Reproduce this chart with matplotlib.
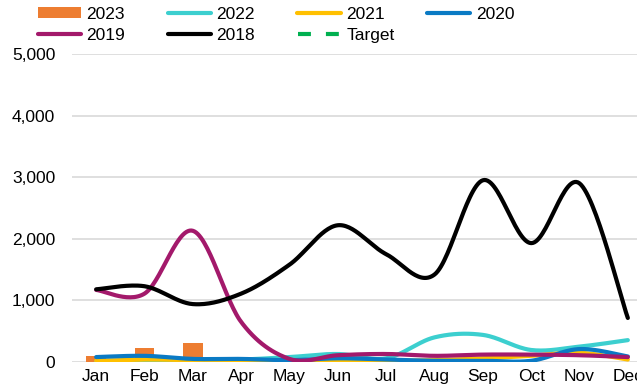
import matplotlib.pyplot as plt
from matplotlib.ticker import FuncFormatter
import numpy as np

plt.rcParams['font.family'] = ['Liberation Sans', 'DejaVu Sans']

months = ["Jan", "Feb", "Mar", "Apr", "May", "Jun", "Jul", "Aug", "Sep", "Oct", "Nov", "Dec"]

v2023 = [100, 230, 310]
v2022 = [10, 20, 30, 40, 80, 130, 60, 400, 440, 195, 250, 355]
v2021 = [20, 40, 30, 20, 10, 20, 20, 30, 60, 100, 150, 40]
v2020 = [80, 100, 50, 50, 30, 60, 40, 20, 20, 20, 210, 90]
v2019 = [1170, 1110, 2130, 650, 50, 110, 130, 100, 120, 120, 110, 80]
v2018 = [1180, 1230, 940, 1110, 1580, 2220, 1750, 1420, 2950, 1930, 2900, 715]
target = []

colors = {"2023": "#ED7D31", "2022": "#3CCFCF", "2021": "#FFC000",
          "2020": "#0A7AC4", "2019": "#A3196B", "2018": "#000000",
          "Target": "#00B050"}


def smooth(y, n=30):
    # catmull-rom style bezier, like a spreadsheet "smoothed line"
    y = np.asarray(y, dtype=float)
    x = np.arange(len(y), dtype=float)
    xs, ys = [], []
    for i in range(len(y) - 1):
        p0 = (x[max(i - 1, 0)], y[max(i - 1, 0)])
        p1 = (x[i], y[i])
        p2 = (x[i + 1], y[i + 1])
        p3 = (x[min(i + 2, len(y) - 1)], y[min(i + 2, len(y) - 1)])
        c1 = (p1[0] + (p2[0] - p0[0]) / 6, p1[1] + (p2[1] - p0[1]) / 6)
        c2 = (p2[0] - (p3[0] - p1[0]) / 6, p2[1] - (p3[1] - p1[1]) / 6)
        t = np.linspace(0, 1, n, endpoint=(i == len(y) - 2))
        for k in range(2):
            pts = [p1[k], c1[k], c2[k], p2[k]]
            b = ((1 - t) ** 3 * pts[0] + 3 * (1 - t) ** 2 * t * pts[1]
                 + 3 * (1 - t) * t ** 2 * pts[2] + t ** 3 * pts[3])
            (xs if k == 0 else ys).append(b)
    return np.concatenate(xs), np.concatenate(ys)


fig = plt.figure(figsize=(6.37, 3.89), dpi=100)
ax = fig.add_axes([72 / 637, 1 - 362 / 389, 580 / 637, 308 / 389])

x = np.arange(len(months))
h = {}
h["2023"] = ax.bar(x[:len(v2023)], v2023, width=0.4, color=colors["2023"], zorder=2)
for name, vals in [("2022", v2022), ("2021", v2021), ("2020", v2020),
                   ("2019", v2019), ("2018", v2018)]:
    sx, sy = smooth(vals)
    h[name], = ax.plot(sx, sy, color=colors[name], linewidth=3,
                       solid_capstyle='round', zorder=3)
h["Target"], = ax.plot(x[:len(target)], target, color=colors["Target"],
                       linewidth=3, linestyle=(0, (3.1, 3.6)), zorder=3)

ax.set_xlim(-0.5, 11.5)
ax.set_ylim(0, 5000)
ax.set_yticks(np.arange(0, 5001, 1000))
ax.yaxis.set_major_formatter(FuncFormatter(lambda v, p: f"{int(v):,}"))
ax.set_xticks(x, months)
ax.tick_params(axis='both', length=0, labelsize=12.5, colors='black')
ax.tick_params(axis='y', pad=12)
ax.tick_params(axis='x', pad=5)
for s in ax.spines.values():
    s.set_visible(False)
ax.grid(axis='y', color='#d9d9d9', linewidth=1.2, zorder=0)
ax.set_axisbelow(True)

# two legend rows so the columns line up evenly
rows = [["2023", "2022", "2021", "2020"], ["2019", "2018", "Target"]]
for r, keys in enumerate(rows):
    fig.legend([h[k] for k in keys], keys, loc='upper left',
               bbox_to_anchor=(38 / 637, 1 - (7 + 21 * r) / 389), ncol=4,
               frameon=False, fontsize=12.5, handlelength=2.5,
               handletextpad=0.3, columnspacing=2.45, borderpad=0,
               borderaxespad=0, handleheight=0.6)

fig.savefig("out.png", dpi=100)
